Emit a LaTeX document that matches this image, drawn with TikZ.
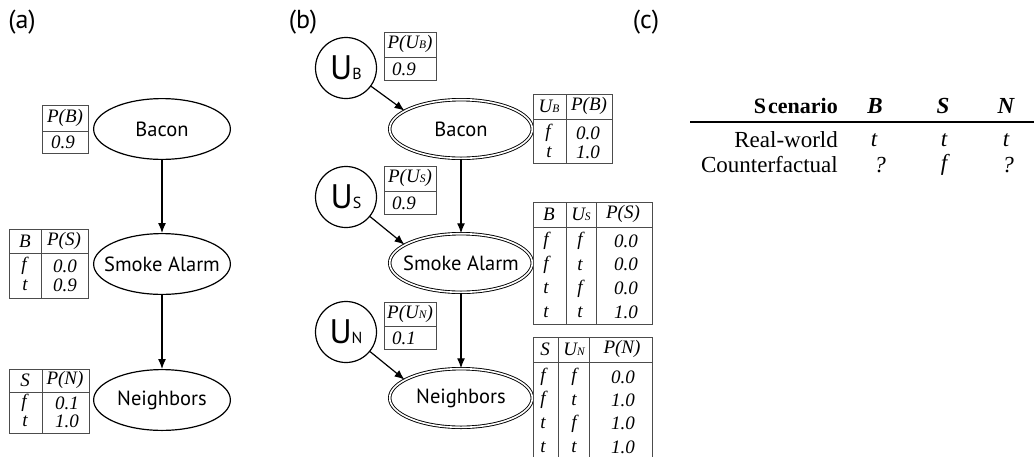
\documentclass[tikz,border=0pt]{standalone}
\usepackage{fontspec}
\setmainfont{Liberation Serif}
\newfontfamily\nodefont{PT Sans}
\usetikzlibrary{arrows.meta,shapes.geometric}
\newcommand{\tfs}{\fontsize{19}{19}\selectfont}
\newcommand{\sub}[1]{{\fontsize{11.5}{11.5}\selectfont #1}}
\newcommand{\usub}[1]{U{\fontsize{16}{16}\selectfont #1}}
\begin{document}
\begin{tikzpicture}[x=1pt,y=-1pt,
  tbl/.style={draw=black!70, line width=0.8pt},
  tt/.style={font=\tfs\itshape, inner sep=0pt},
  ell/.style={ellipse, draw, line width=1.2pt, minimum width=136.8pt, minimum height=60.8pt, inner sep=0pt},
  dell/.style={ellipse, draw, double, double distance=1.6pt, line width=0.9pt, minimum width=142.6pt, minimum height=58.6pt, inner sep=0pt},
  unode/.style={circle, draw, line width=1.2pt, minimum size=61pt, inner sep=0pt, font=\nodefont\fontsize{34}{34}\selectfont},
  arr/.style={-{Latex[length=10pt,width=8pt]}, line width=1.2pt},
  lbl/.style={font=\nodefont\fontsize{20.5}{20.5}\selectfont, inner sep=0pt},
  plbl/.style={font=\nodefont\fontsize{26}{26}\selectfont, inner sep=0pt},
  ct/.style={font=\fontsize{23}{23}\selectfont, inner sep=0pt},
  cti/.style={font=\fontsize{23}{23}\selectfont\itshape, inner sep=0pt},
  ctb/.style={font=\fontsize{23}{23}\selectfont\bfseries\itshape, inner sep=0pt},
]
\useasboundingbox (0,0) rectangle (1034,456);

% panel labels
\node[plbl] (la) at (22,22) {(a)};
\node[plbl] (lb) at (303,22) {(b)};
\node[plbl] (lc) at (646,22) {(c)};

% ---------- panel (a) ----------
\node[ell, label={[lbl]center:Bacon}] (aB) at (162,129) {};
\node[ell, label={[lbl]center:Smoke Alarm}] (aS) at (162,264) {};
\node[ell, label={[lbl]center:Neighbors}] (aN) at (162,400) {};
\draw[arr] (aB) -- (aS);
\draw[arr] (aS) -- (aN);

% P(B)
\draw[tbl] (42,105) rectangle (88,153);
\draw[tbl] (42,131) -- (88,131);
\node[tt] (ta1) at (65,118) {P(B)};
\node[tt] (ta2) at (63,142) {0.9};

% P(S|B)
\draw[tbl] (9,229) rectangle (88,298);
\draw[tbl] (41,229) -- (41,298);
\draw[tbl] (9,253) -- (88,253);
\node[tt] (tb1) at (25,241) {B};
\node[tt] (tb2) at (64,241) {P(S)};
\node[tt] (tb3) at (24,266) {f};
\node[tt] (tb4) at (65,266) {0.0};
\node[tt] (tb5) at (25,285) {t};
\node[tt] (tb6) at (65,285) {0.9};

% P(N|S)
\draw[tbl] (9,369) rectangle (89,433);
\draw[tbl] (42,369) -- (42,433);
\draw[tbl] (9,392) -- (89,392);
\node[tt] (tc1) at (25,380) {S};
\node[tt] (tc2) at (65,380) {P(N)};
\node[tt] (tc3) at (24,403) {f};
\node[tt] (tc4) at (67,403) {0.1};
\node[tt] (tc5) at (25,421) {t};
\node[tt] (tc6) at (67,421) {1.0};

% ---------- panel (b) ----------
\node[dell, label={[lbl]center:Bacon}] (bB) at (461,129) {};
\node[dell, label={[lbl]center:Smoke Alarm}] (bS) at (461,263) {};
\node[dell, label={[lbl]center:Neighbors}] (bN) at (461,398) {};
\node[unode] (UB) at (346,68) {\usub{B}};
\node[unode] (US) at (346,197) {\usub{S}};
\node[unode] (UN) at (346,332) {\usub{N}};
\draw[arr] (bB) -- (bS);
\draw[arr] (bS) -- (bN);
\draw[arr] (UB) -- (bB.162);
\draw[arr] (US) -- (bS.162);
\draw[arr] (UN) -- (bN.162);

% P(U_B)
\draw[tbl] (384,32) rectangle (436,80);
\draw[tbl] (384,57) -- (436,57);
\node[tt] (td1) at (410,44) {P(U\sub{B})};
\node[tt] (td2) at (404,69) {0.9};
% P(U_S)
\draw[tbl] (384,166) rectangle (436,214);
\draw[tbl] (384,191) -- (436,191);
\node[tt] (te1) at (410,178) {P(U\sub{S})};
\node[tt] (te2) at (404,203) {0.9};
% P(U_N)
\draw[tbl] (384,302) rectangle (436,349);
\draw[tbl] (384,326) -- (436,326);
\node[tt] (tf1) at (410,314) {P(U\sub{N})};
\node[tt] (tf2) at (404,338) {0.1};

% P(B|U_B)
\draw[tbl] (533,94) rectangle (612,163);
\draw[tbl] (566,94) -- (566,163);
\draw[tbl] (533,119) -- (612,119);
\node[tt] (tg1) at (549,106) {U\sub{B}};
\node[tt] (tg2) at (589,106) {P(B)};
\node[tt] (tg3) at (548,133) {f};
\node[tt] (tg4) at (588,133) {0.0};
\node[tt] (tg5) at (549,152) {t};
\node[tt] (tg6) at (588,152) {1.0};

% P(S|B,U_S)
\draw[tbl] (533,202) rectangle (652,324);
\draw[tbl] (566,202) -- (566,324);
\draw[tbl] (596,202) -- (596,324);
\draw[tbl] (533,227) -- (652,227);
\node[tt] (th1) at (549,214) {B};
\node[tt] (th2) at (581,214) {U\sub{S}};
\node[tt] (th3) at (623,214) {P(S)};
\foreach \r/\a/\b/\v in {0/f/f/0.0, 1/f/t/0.0, 2/t/f/0.0, 3/t/t/1.0}{
  \node[tt] (th\r a) at (546,{241+23.8*\r}) {\a};
  \node[tt] (th\r b) at (580,{241+23.8*\r}) {\b};
  \node[tt] (th\r c) at (626,{241+23.8*\r}) {\v};
}

% P(N|S,U_N)
\draw[tbl] (533,460) -- (533,337) -- (652,337) -- (652,460);
\draw[tbl] (558,337) -- (558,460);
\draw[tbl] (589,337) -- (589,460);
\draw[tbl] (533,362) -- (652,362);
\node[tt] (ti1) at (545,349) {S};
\node[tt] (ti2) at (574,349) {U\sub{N}};
\node[tt] (ti3) at (622,349) {P(N)};
\foreach \r/\a/\b/\v in {0/f/f/0.0, 1/f/t/1.0, 2/t/f/1.0, 3/t/t/1.0}{
  \node[tt] (ti\r a) at (543,{377+23.3*\r}) {\a};
  \node[tt] (ti\r b) at (574,{377+23.3*\r}) {\b};
  \node[tt] (ti\r c) at (623,{377+23.3*\r}) {\v};
}

% ---------- panel (c) ----------
\draw[line width=1.3pt] (690,122) -- (1034,122);
\node[ct, font=\fontsize{22}{22}\selectfont\bfseries, anchor=east] (c0) at (838,106) {S\kern2pt cenario};
\node[ctb] (c1) at (875,106) {B};
\node[ctb] (c2) at (943,106) {S};
\node[ctb] (c3) at (1006,106) {N};
\node[ct, anchor=east] (c4) at (838,140) {Real-world};
\node[cti] (c5) at (874,140) {t};
\node[cti] (c6) at (944,140) {t};
\node[cti] (c7) at (1006,140) {t};
\node[ct, anchor=east] (c8) at (838,165) {Counterfactual};
\node[cti] (c9) at (880,165) {?};
\node[cti] (c10) at (944,165) {f};
\node[cti] (c11) at (1008,165) {?};
\end{tikzpicture}
\end{document}
